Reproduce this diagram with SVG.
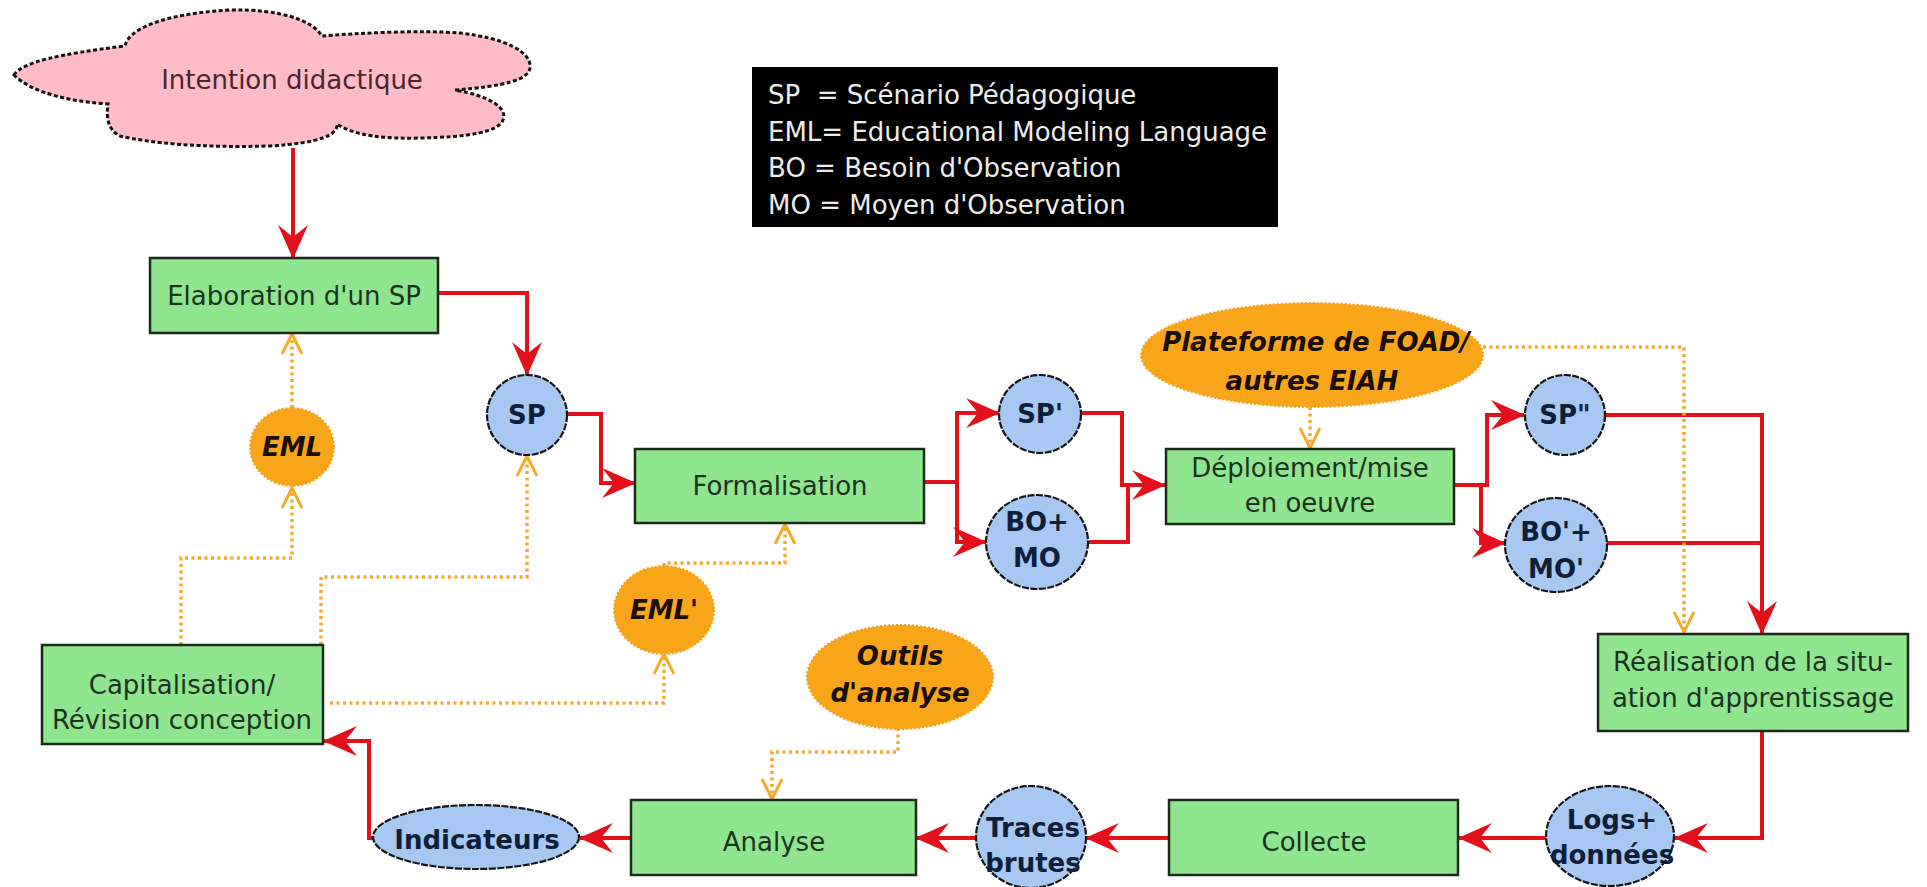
<svg xmlns="http://www.w3.org/2000/svg" width="1927" height="887" viewBox="0 0 1927 887">
<style>
text{font-family:"DejaVu Sans","Liberation Sans",sans-serif;font-size:26px;text-anchor:middle}
.box{fill:#8fe68f;stroke:#1d2b1d;stroke-width:2.5}
.btx{fill:#1c3320}
.blue{fill:#a7c8f2;stroke:#151515;stroke-width:2.2;stroke-dasharray:7 1.5}
.bltx{fill:#0f1f3a;font-weight:bold}
.org{fill:#f9a51a;stroke:#f3a020;stroke-width:2;stroke-dasharray:2 2}
.ortx{fill:#1a0e00;font-weight:bold;font-style:italic}
.red{fill:none;stroke:#e3101c;stroke-width:4}
.dot{fill:none;stroke:#f3ab2e;stroke-width:3.5;stroke-dasharray:3 3.5}
.leg{fill:#ececec;text-anchor:start;white-space:pre}
</style>
<defs>
<marker id="ra" markerUnits="userSpaceOnUse" viewBox="0 0 34 30" refX="33" refY="15" markerWidth="34" markerHeight="30" orient="auto">
<path d="M0,0 L34,15 L0,30 L12,15 z" fill="#e3101c"/>
</marker>
<marker id="oa" markerUnits="userSpaceOnUse" viewBox="0 0 24 24" refX="22" refY="12" markerWidth="24" markerHeight="24" orient="auto">
<path d="M2,2 L22,12 L2,22" fill="none" stroke="#f3ab2e" stroke-width="3"/>
</marker>
</defs>
<rect width="1927" height="887" fill="#ffffff"/>

<g id="legend">
<rect x="752" y="67" width="526" height="160" fill="#000"/>
<text class="leg" x="768" y="104">SP  = Scénario Pédagogique</text>
<text class="leg" x="768" y="141">EML= Educational Modeling Language</text>
<text class="leg" x="768" y="177">BO = Besoin d'Observation</text>
<text class="leg" x="768" y="214">MO = Moyen d'Observation</text>
</g>

<g id="connectors">
<path class="red" d="M293,148 V258" marker-end="url(#ra)"/>
<path class="red" d="M438,293 H527 V375" marker-end="url(#ra)"/>
<path class="red" d="M568,414 H601 V483 H635" marker-end="url(#ra)"/>
<path class="red" d="M923,482 H957 V413 H999" marker-end="url(#ra)"/>
<path class="red" d="M957,482 V542 H986" marker-end="url(#ra)"/>
<path class="red" d="M1081,413 H1122 V485 H1165" marker-end="url(#ra)"/>
<path class="red" d="M1089,542 H1128 V485"/>
<path class="red" d="M1454,485 H1487 V415 H1524" marker-end="url(#ra)"/>
<path class="red" d="M1481,485 V543 H1505" marker-end="url(#ra)"/>
<path class="red" d="M1605,415 H1762 V634" marker-end="url(#ra)"/>
<path class="red" d="M1607,543 H1762"/>
<path class="red" d="M1762,731 V838 H1675" marker-end="url(#ra)"/>
<path class="red" d="M1546,838 H1459" marker-end="url(#ra)"/>
<path class="red" d="M1169,838 H1086" marker-end="url(#ra)"/>
<path class="red" d="M975,838 H916" marker-end="url(#ra)"/>
<path class="red" d="M631,838 H580" marker-end="url(#ra)"/>
<path class="red" d="M373,838 H369 V741 H324" marker-end="url(#ra)"/>

<path class="dot" d="M181,645 V558 H292 V488" marker-end="url(#oa)"/>
<path class="dot" d="M292,408 V334" marker-end="url(#oa)"/>
<path class="dot" d="M321,645 V577 H527 V456" marker-end="url(#oa)"/>
<path class="dot" d="M330,703 H664 V654" marker-end="url(#oa)"/>
<path class="dot" d="M664,566 V563 H785 V524" marker-end="url(#oa)"/>
<path class="dot" d="M1310,407 V448" marker-end="url(#oa)"/>
<path class="dot" d="M1483,347 H1684 V632" marker-end="url(#oa)"/>
<path class="dot" d="M898,728 V752 H772 V799" marker-end="url(#oa)"/>
</g>

<g id="cloud">
<path d="M14,75 C22,62 60,54 125,46 C128,30 160,14 230,10 C280,9 312,20 322,36 C360,33 420,30 460,33 C505,38 532,52 530,68 C528,80 505,86 455,90 C490,96 508,108 503,120 C498,132 470,137 420,138 C385,139 355,136 337,124 C338,135 320,143 270,146 C200,148 150,143 120,136 C108,130 106,118 108,104 C80,102 35,96 14,75 Z" fill="#ffbcc8" stroke="#111" stroke-width="3" stroke-dasharray="4 2.5"/>
<text x="292" y="89" fill="#4a2530">Intention didactique</text>
</g>

<g id="elaboration">
<rect class="box" x="150" y="258" width="288" height="75"/>
<text class="btx" x="294" y="305">Elaboration d'un SP</text>
</g>

<g id="sp">
<circle class="blue" cx="527" cy="415" r="40"/>
<text class="bltx" x="527" y="424">SP</text>
</g>

<g id="formalisation">
<rect class="box" x="635" y="449" width="289" height="74"/>
<text class="btx" x="780" y="495">Formalisation</text>
</g>

<g id="sp1">
<ellipse class="blue" cx="1040" cy="414" rx="41" ry="39"/>
<text class="bltx" x="1040" y="423">SP'</text>
</g>

<g id="bomo">
<ellipse class="blue" cx="1037" cy="542" rx="51" ry="47"/>
<text class="bltx" x="1037" y="531">BO+</text>
<text class="bltx" x="1037" y="567">MO</text>
</g>

<g id="deploiement">
<rect class="box" x="1166" y="449" width="288" height="75"/>
<text class="btx" x="1310" y="477">Déploiement/mise</text>
<text class="btx" x="1310" y="512">en oeuvre</text>
</g>

<g id="plateforme">
<ellipse class="org" cx="1312" cy="355" rx="171" ry="52"/>
<text class="ortx" x="1316" y="351">Plateforme de FOAD/</text>
<text class="ortx" x="1312" y="390">autres EIAH</text>
</g>

<g id="sp2">
<circle class="blue" cx="1565" cy="415" r="40"/>
<text class="bltx" x="1565" y="424">SP"</text>
</g>

<g id="bomo2">
<ellipse class="blue" cx="1556" cy="545" rx="51" ry="47"/>
<text class="bltx" x="1556" y="541">BO'+</text>
<text class="bltx" x="1556" y="578">MO'</text>
</g>

<g id="realisation">
<rect class="box" x="1598" y="634" width="310" height="97"/>
<text class="btx" x="1753" y="671">Réalisation de la situ-</text>
<text class="btx" x="1753" y="707">ation d'apprentissage</text>
</g>

<g id="logs">
<ellipse class="blue" cx="1610" cy="836" rx="64" ry="50"/>
<text class="bltx" x="1612" y="829">Logs+</text>
<text class="bltx" x="1612" y="864">données</text>
</g>

<g id="collecte">
<rect class="box" x="1169" y="800" width="289" height="75"/>
<text class="btx" x="1314" y="851">Collecte</text>
</g>

<g id="traces">
<ellipse class="blue" cx="1031" cy="837" rx="55" ry="51"/>
<text class="bltx" x="1033" y="837">Traces</text>
<text class="bltx" x="1033" y="872">brutes</text>
</g>

<g id="analyse">
<rect class="box" x="631" y="800" width="285" height="75"/>
<text class="btx" x="774" y="851">Analyse</text>
</g>

<g id="indicateurs">
<ellipse class="blue" cx="476" cy="837" rx="103" ry="32"/>
<text class="bltx" x="477" y="849">Indicateurs</text>
</g>

<g id="capitalisation">
<rect class="box" x="42" y="645" width="281" height="99"/>
<text class="btx" x="182" y="694">Capitalisation/</text>
<text class="btx" x="182" y="729">Révision conception</text>
</g>

<g id="eml">
<ellipse class="org" cx="292" cy="447" rx="42" ry="39"/>
<text class="ortx" x="292" y="456">EML</text>
</g>

<g id="eml2">
<ellipse class="org" cx="664" cy="610" rx="50" ry="44"/>
<text class="ortx" x="664" y="619">EML'</text>
</g>

<g id="outils">
<ellipse class="org" cx="900" cy="677" rx="93" ry="52"/>
<text class="ortx" x="900" y="665">Outils</text>
<text class="ortx" x="900" y="702">d'analyse</text>
</g>
</svg>
